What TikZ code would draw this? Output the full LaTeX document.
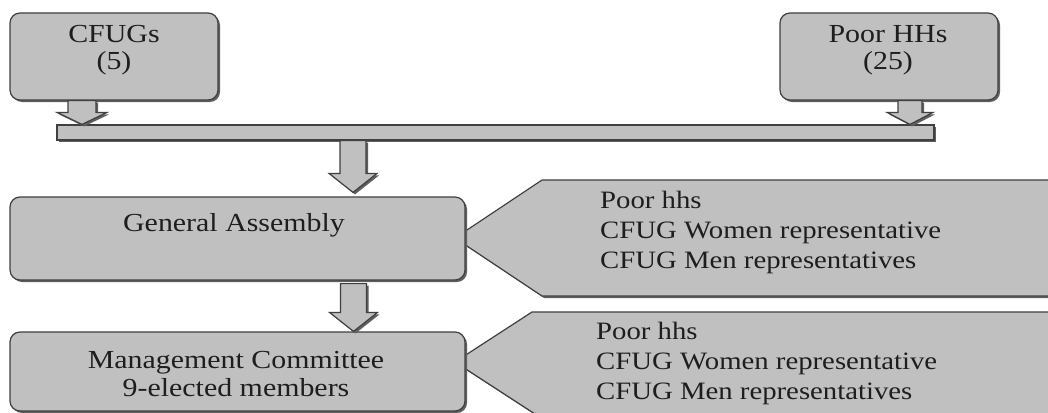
\documentclass[tikz,border=0pt]{standalone}
\usepackage{fontspec}
\setmainfont{Liberation Serif}[FakeStretch=1.15]
\usetikzlibrary{calc,shadows}
\definecolor{boxfill}{RGB}{192,192,192}
\definecolor{boxline}{RGB}{64,64,64}
\definecolor{shade}{RGB}{95,95,95}
\definecolor{ink}{RGB}{30,30,30}
\tikzset{
  sh/.style={drop shadow={shadow xshift=2pt,shadow yshift=-2pt,fill=shade,opacity=1}},
  box/.style={draw=boxline,fill=boxfill,line width=1.2pt,rounded corners=10pt,sh,inner sep=0pt},
  blk/.style={draw=boxline,fill=boxfill,line width=1.2pt,sh,line join=miter},
  txt/.style={text=ink,font=\fontsize{26}{27}\selectfont,inner sep=0pt,align=center},
  list/.style={text=ink,font=\fontsize{25}{30}\selectfont,align=left,inner sep=0pt,anchor=west},
}
% #1 start (column x and start y), #2 end (tip y), #3 shaft half width, #4 head half width, #5 head length
\newcommand\blockarr[5]{%
  \path[blk] let \p1=#1, \p2=#2 in
    (\x1-#3,\y1) -- (\x1+#3,\y1) -- (\x1+#3,\y2+#5) -- (\x1+#4,\y2+#5) --
    (\x1,\y2) -- (\x1-#4,\y2+#5) -- (\x1-#3,\y2+#5) -- cycle;}
\begin{document}
\begin{tikzpicture}[x=1pt,y=-1pt]
\useasboundingbox (0,0) rectangle (1048,412);
\clip (0,0) rectangle (1048,412);
\fill[white] (0,0) rectangle (1048,412);

% right-hand pointer shapes
\path[blk] (455,238) -- (542,180) -- (1070,180) -- (1070,296) -- (542,296) -- cycle;
\path[blk] (455,362) -- (532,312) -- (1070,312) -- (1070,440) -- (575,440) -- cycle;
\node[list] (l1) at (600,232) {Poor hhs\\CFUG Women representative\\CFUG Men representatives};
\node[list] (l2) at (596,363) {Poor hhs\\CFUG Women representative\\CFUG Men representatives};

% boxes
\node[box,minimum width=208pt,minimum height=87pt] (cfug) at (114,56.5) {};
\node[box,minimum width=218pt,minimum height=87pt] (phh) at (889,56.5) {};
\node[box,minimum width=455pt,minimum height=83pt] (ga) at (237.5,238.5) {};
\node[box,minimum width=455pt,minimum height=79pt] (mc) at (237.5,371.5) {};
\node[blk,minimum width=877pt,minimum height=15pt,inner sep=0pt] (bar) at (495.5,132.5) {};

\node[txt] (cfugt) at (114,50.5) {CFUGs\\(5)};
\node[txt] (phht) at (888,50.5) {Poor HHs\\(25)};
\node[txt] (gat) at (234,225) {General Assembly};
\node[txt,font=\fontsize{26}{28}\selectfont] (mct) at (236,374) {Management Committee\\9-elected members};

% block arrows
\blockarr{($(cfug.south)+(-32,0)$)}{(bar.north)}{14pt}{25pt}{12pt}
\blockarr{($(phh.south)+(21,0)$)}{(bar.north)}{12pt}{23pt}{12pt}
\blockarr{($(bar.south)+(-142.5,0)$)}{($(ga.north)+(0,-4)$)}{13pt}{24pt}{19pt}
\blockarr{($(ga.south)+(116,3)$)}{(mc.north)}{13pt}{24pt}{19pt}
\end{tikzpicture}
\end{document}
